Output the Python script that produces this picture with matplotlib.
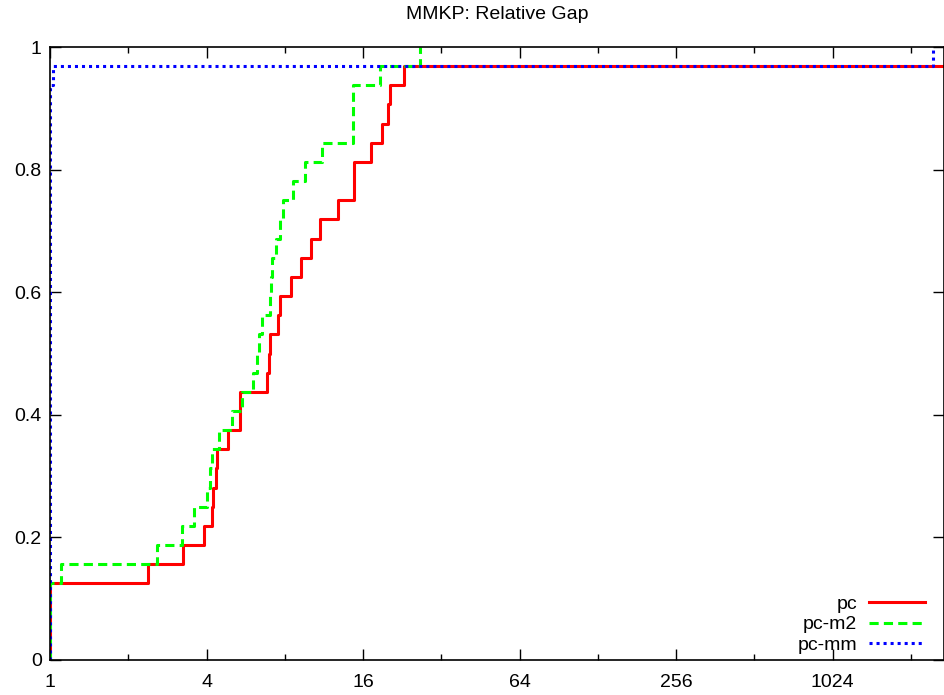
import matplotlib
matplotlib.use("Agg")
import matplotlib.pyplot as plt
import numpy as np
from matplotlib.ticker import FixedLocator, FuncFormatter

plt.rcParams['font.family'] = ['Liberation Sans', 'DejaVu Sans']

# performance profile: 32 instances, ratio where each solver gains one more solved instance
n_inst = 32
x_max = 2736.0

pc_ratio = [1.0, 2.375, 3.255, 3.909, 4.207, 4.252, 4.347, 4.374, 4.822, 5.377,
            6.811, 6.95, 7.04, 7.525, 7.694, 8.445, 9.267, 10.08, 10.92, 12.84,
            14.79, 17.15, 18.85, 19.88, 20.28, 22.96]
pc_count = [4, 5, 6, 7, 8, 9, 10, 11, 12, 14,
            15, 16, 17, 18, 19, 20, 21, 22, 23, 24,
            26, 27, 28, 29, 30, 31]

m2_ratio = [1.0, 1.102, 2.572, 3.209, 3.578, 4.003, 4.122, 4.196, 4.476, 4.996,
            5.458, 6.049, 6.233, 6.378, 6.515, 7.012, 7.073, 7.137, 7.395, 7.660,
            7.888, 8.571, 9.558, 11.08, 14.58, 18.57, 26.46]
m2_count = [4, 5, 6, 7, 8, 9, 10, 11, 12, 13,
            14, 15, 16, 17, 18, 19, 20, 21, 22, 23,
            24, 25, 26, 27, 30, 31, 32]

mm_ratio = [1.0, 1.03, 2503.0]
mm_count = [30, 31, 32]

x_ticks = [1, 4, 16, 64, 256, 1024]
x_minor = [2, 8, 32, 128, 512, 2048]
y_ticks = [0, 0.2, 0.4, 0.6, 0.8, 1]


def profile(ratio, count):
    x = np.concatenate([[1.0], ratio])
    y = np.concatenate([[0], count]) / n_inst
    # curves that never reach 1 run on to the right border
    if count[-1] < n_inst:
        x = np.append(x, x_max)
        y = np.append(y, y[-1])
    return x, y


fig = plt.figure(figsize=(9.44, 6.95), dpi=100)
ax = fig.add_axes([50 / 944, 35 / 695, 893.5 / 944, 613 / 695])

series = [
    ('pc', pc_ratio, pc_count, dict(color='#ff0000', linestyle='-')),
    ('pc-m2', m2_ratio, m2_count, dict(color='#00ff00', linestyle=(0, (3, 1.7)))),
    ('pc-mm', mm_ratio, mm_count, dict(color='#0000ff', linestyle=(0, (1, 1.3)))),
]
for name, r, c, style in series:
    x, y = profile(r, c)
    ax.step(x, y, where='post', linewidth=2.2, label=name, **style)

ax.set_xscale('log', base=2)
ax.set_xlim(1, x_max)
ax.set_ylim(0, 1)
ax.xaxis.set_major_locator(FixedLocator(x_ticks))
ax.xaxis.set_minor_locator(FixedLocator(x_minor))
ax.xaxis.set_major_formatter(FuncFormatter(lambda v, p: '%g' % v))
ax.xaxis.set_minor_formatter(FuncFormatter(lambda v, p: ''))
ax.yaxis.set_major_locator(FixedLocator(y_ticks))
ax.yaxis.set_major_formatter(FuncFormatter(lambda v, p: '%g' % v))

ax.tick_params(which='both', direction='in', top=True, right=True,
               labelsize=14, colors='black', width=1)
ax.tick_params(which='major', length=8)
ax.tick_params(which='minor', length=4)
ax.tick_params(axis='x', pad=10)
ax.tick_params(axis='y', pad=6)
for s in ax.spines.values():
    s.set_linewidth(1.2)
    s.set_zorder(5)

ax.set_title('MMKP: Relative Gap', fontsize=14, pad=20)

ax.legend(loc='lower right', markerfirst=False, frameon=False, fontsize=14,
          handlelength=2.9, handletextpad=0.6, labelspacing=0.15,
          borderaxespad=0, borderpad=0,
          bbox_to_anchor=((925 - 50) / 893.5, 6 / 613))

fig.savefig('out.png', dpi=100)
